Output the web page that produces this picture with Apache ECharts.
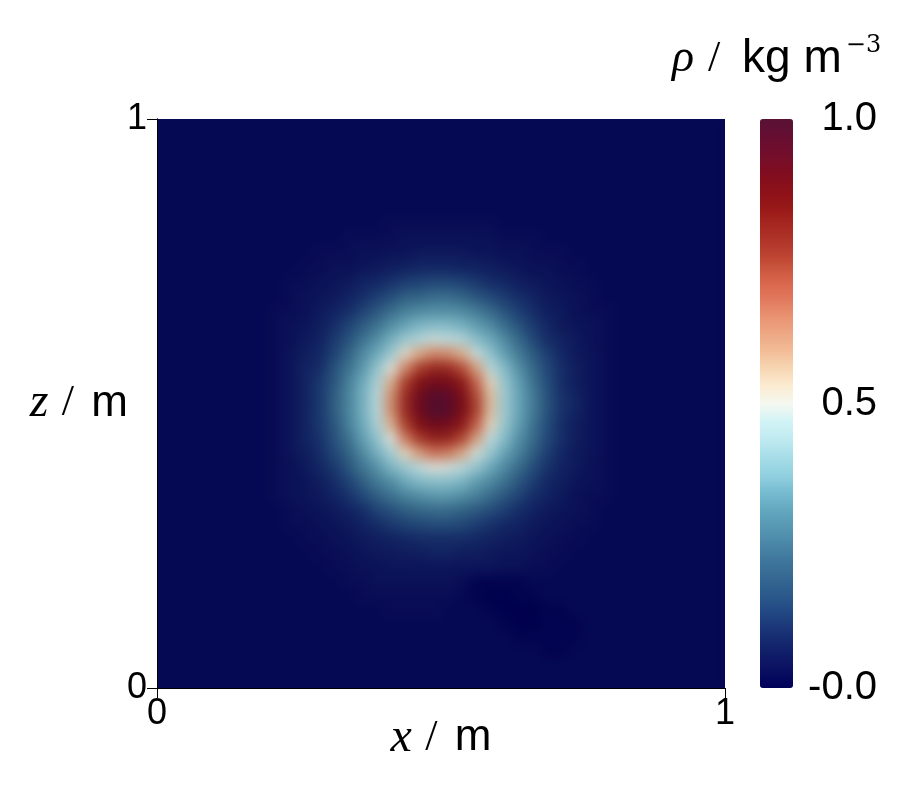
<!DOCTYPE html>
<html>
<head>
<meta charset="utf-8">
<title>rho</title>
<script src="https://cdn.jsdelivr.net/npm/echarts@6/dist/echarts.min.js"></script>
<style>
html, body { margin: 0; padding: 0; background: #fff; }
#main { width: 917px; height: 804px; }
/* the field sits on its own layer (zlevel 1): soften the cells, shade it a little
   like the lit surface in the original, keep it inside the plot box */
#main canvas[data-zr-dom-id="zr_1"] {
  filter: blur(6px) brightness(0.88);
  clip-path: inset(119px 192px 116px 157px);
}
</style>
</head>
<body>
<div id="main"></div>
<script>
// density, in hundredths of kg m^-3
// 40 x 40 cells over [0,1] x [0,1], first row is the top (z = 1)
var rhoRows = [
  [2,2,2,2,2,2,2,2,2,2,2,2,2,2,2,2,2,2,2,2,2,2,2,2,2,2,2,2,2,2,2,2,2,2,2,2,2,2,2,2],
  [2,2,2,2,2,2,2,2,2,2,2,2,2,2,2,2,2,2,2,2,2,2,2,2,2,2,2,2,2,2,2,2,2,2,2,2,2,2,2,2],
  [2,2,2,2,2,2,2,2,2,2,2,2,2,2,2,2,2,2,2,2,2,2,2,2,2,2,2,2,2,2,2,2,2,2,2,2,2,2,2,2],
  [2,2,2,2,2,2,2,2,2,2,2,2,2,2,2,2,2,2,2,2,2,2,2,2,2,2,2,2,2,2,2,2,2,2,2,2,2,2,2,2],
  [2,2,2,2,2,2,2,2,2,2,2,2,2,2,2,2,2,2,2,2,2,2,2,2,2,2,2,2,2,2,2,2,2,2,2,2,2,2,2,2],
  [2,2,2,2,2,2,2,2,2,2,2,2,2,2,2,2,2,2,2,2,2,2,2,2,2,2,2,2,2,2,2,2,2,2,2,2,2,2,2,2],
  [2,2,2,2,2,2,2,2,2,2,2,2,2,2,2,2,2,2,2,2,2,2,2,2,2,2,2,2,2,2,2,2,2,2,2,2,2,2,2,2],
  [2,2,2,2,2,2,2,2,2,2,2,2,2,2,2,2,3,3,3,3,3,3,3,3,2,2,2,2,2,2,2,2,2,2,2,2,2,2,2,2],
  [2,2,2,2,2,2,2,2,2,2,2,2,2,3,3,3,3,4,4,4,4,4,4,4,3,3,3,2,2,2,2,2,2,2,2,2,2,2,2,2],
  [2,2,2,2,2,2,2,2,2,2,2,3,3,3,4,4,5,5,6,6,6,6,5,5,4,4,3,3,3,2,2,2,2,2,2,2,2,2,2,2],
  [2,2,2,2,2,2,2,2,2,2,3,3,4,4,5,6,7,8,9,9,9,8,8,7,6,5,4,4,3,3,2,2,2,2,2,2,2,2,2,2],
  [2,2,2,2,2,2,2,2,2,3,3,4,5,6,8,9,11,13,14,15,15,14,12,10,9,7,6,5,4,3,3,2,2,2,2,2,2,2,2,2],
  [2,2,2,2,2,2,2,2,2,3,4,5,6,8,10,13,16,20,21,23,23,21,18,15,12,10,8,6,5,4,3,2,2,2,2,2,2,2,2,2],
  [2,2,2,2,2,2,2,2,3,3,4,6,8,10,14,18,23,27,29,30,30,29,26,22,17,13,10,7,6,4,3,3,2,2,2,2,2,2,2,2],
  [2,2,2,2,2,2,2,2,3,4,5,7,10,14,19,24,30,34,37,38,38,36,33,29,23,17,12,9,6,5,4,3,2,2,2,2,2,2,2,2],
  [2,2,2,2,2,2,2,2,3,4,6,8,12,17,24,30,36,42,45,48,47,45,39,35,29,22,15,10,8,6,4,3,2,2,2,2,2,2,2,2],
  [2,2,2,2,2,2,2,2,3,5,7,9,14,21,29,35,42,52,59,64,63,58,48,40,33,26,19,13,9,6,5,3,2,2,2,2,2,2,2,2],
  [2,2,2,2,2,2,2,2,3,5,8,10,17,24,32,40,50,64,75,80,79,73,60,46,38,30,22,15,10,7,5,3,2,2,2,2,2,2,2,2],
  [2,2,2,2,2,2,2,2,3,5,8,12,18,27,35,44,58,75,85,90,89,83,69,53,41,33,24,16,10,7,5,3,2,2,2,2,2,2,2,2],
  [2,2,2,2,2,2,2,2,3,5,8,12,20,28,36,46,63,79,91,98,96,88,74,56,42,34,26,17,11,8,5,3,2,2,2,2,2,2,2,2],
  [2,2,2,2,2,2,2,2,3,5,8,12,20,28,36,46,63,79,91,99,97,88,75,56,42,34,26,17,11,8,5,3,2,2,2,2,2,2,2,2],
  [2,2,2,2,2,2,2,2,3,5,8,12,18,27,35,44,58,75,86,91,90,83,70,53,41,33,24,16,10,7,5,3,2,2,2,2,2,2,2,2],
  [2,2,2,2,2,2,2,2,3,5,8,11,17,24,33,40,50,66,76,81,80,74,60,47,38,30,23,15,10,7,5,3,2,2,2,2,2,2,2,2],
  [2,2,2,2,2,2,2,2,3,5,7,10,15,21,29,36,43,53,61,67,66,59,49,41,34,27,20,13,9,6,5,3,2,2,2,2,2,2,2,2],
  [2,2,2,2,2,2,2,2,3,4,6,9,12,18,25,31,37,42,47,50,49,46,41,35,29,23,16,11,8,6,4,3,2,2,2,2,2,2,2,2],
  [2,2,2,2,2,2,2,2,3,4,5,7,10,14,20,26,30,35,38,39,39,37,33,29,24,18,13,9,7,5,4,3,2,2,2,2,2,2,2,2],
  [2,2,2,2,2,2,2,2,3,4,5,6,8,11,15,20,24,28,30,32,32,30,27,23,18,14,10,8,6,4,3,3,2,2,2,2,2,2,2,2],
  [2,2,2,2,2,2,2,2,2,3,4,5,6,8,10,14,17,20,22,23,23,21,19,16,13,10,8,6,5,4,3,2,2,2,2,2,2,2,2,2],
  [2,2,2,2,2,2,2,2,2,3,3,4,5,6,8,10,12,14,15,16,16,15,13,11,9,8,6,5,4,3,3,2,2,2,2,2,2,2,2,2],
  [2,2,2,2,2,2,2,2,2,2,3,3,4,5,6,7,8,9,10,10,10,10,9,8,7,6,5,4,3,3,2,2,2,2,2,2,2,2,2,2],
  [2,2,2,2,2,2,2,2,2,2,2,3,3,4,5,6,6,7,7,8,8,7,7,6,5,5,4,3,3,2,2,2,2,2,2,2,2,2,2,2],
  [2,2,2,2,2,2,2,2,2,2,2,2,3,3,4,4,5,5,5,5,5,5,5,5,4,4,3,3,2,2,2,2,2,2,2,2,2,2,2,2],
  [2,2,2,2,2,2,2,2,2,2,2,2,2,3,3,4,4,4,4,4,4,3,1,1,1,1,2,2,2,2,2,2,2,2,2,2,2,2,2,2],
  [2,2,2,2,2,2,2,2,2,2,2,2,2,2,3,3,3,3,3,3,3,2,1,0,0,1,1,2,2,2,2,2,2,2,2,2,2,2,2,2],
  [2,2,2,2,2,2,2,2,2,2,2,2,2,2,2,2,3,3,3,3,2,2,2,1,0,0,0,1,1,2,2,2,2,2,2,2,2,2,2,2],
  [2,2,2,2,2,2,2,2,2,2,2,2,2,2,2,2,2,2,2,2,2,2,2,2,1,0,0,1,1,1,2,2,2,2,2,2,2,2,2,2],
  [2,2,2,2,2,2,2,2,2,2,2,2,2,2,2,2,2,2,2,2,2,2,2,2,2,1,1,1,1,1,2,2,2,2,2,2,2,2,2,2],
  [2,2,2,2,2,2,2,2,2,2,2,2,2,2,2,2,2,2,2,2,2,2,2,2,2,2,2,1,1,2,2,2,2,2,2,2,2,2,2,2],
  [2,2,2,2,2,2,2,2,2,2,2,2,2,2,2,2,2,2,2,2,2,2,2,2,2,2,2,2,2,2,2,2,2,2,2,2,2,2,2,2],
  [2,2,2,2,2,2,2,2,2,2,2,2,2,2,2,2,2,2,2,2,2,2,2,2,2,2,2,2,2,2,2,2,2,2,2,2,2,2,2,2]
];

var axisTicks = [0, 1];
var axisTickLabels = ['0', '1'];
var barTicks = [0, 0.5, 1];
var barTickLabels = ['-0.0', '0.5', '1.0'];

// cool to warm (extended), low -> high
var coolWarm = [
  '#000059', '#0a1061', '#101e69', '#172f73', '#204380', '#29568a', '#336591',
  '#3d7499', '#4985a6', '#5697b3', '#63a7bf', '#77bcd1', '#92d1e0', '#a7dde8',
  '#c0eaf0', '#d2f4f7', '#f5f8f0', '#fbebd1', '#f7d5b2', '#f2bb96', '#eda682',
  '#e8906f', '#e0755a', '#d66349', '#c24b36', '#b3362b', '#a62821', '#991818',
  '#8c1119', '#800d20', '#730e2c', '#660e31', '#591236'
];

var nCells = rhoRows.length;
var cells = [];
for (var i = 0; i < nCells; i++) {
  cells.push(((i + 0.5) / nCells).toFixed(4));
}
var heat = [];
rhoRows.forEach(function (row, r) {
  row.forEach(function (v, c) {
    heat.push([c, nCells - 1 - r, v / 100]);
  });
});

var sans = 'Liberation Sans';
var serif = 'Liberation Serif';
var nameRich = {
  i: { fontFamily: serif, fontStyle: 'italic', fontSize: 48, color: '#000' },
  s: { fontFamily: serif, fontSize: 44, color: '#000', padding: [0, 4, 0, 0] },
  t: { fontFamily: sans, fontSize: 44, color: '#000' }
};
var tickFmt = function (v) { return axisTickLabels[axisTicks.indexOf(v)]; };

var myChart = echarts.init(document.getElementById('main'));
var option = {
  animation: false,
  backgroundColor: '#fff',
  textStyle: { fontFamily: sans, color: '#000' },
  title: {
    text: '{i|ρ} {s|/} {t|kg m}{p|−3}',
    left: 667,
    top: 29,
    textStyle: {
      fontSize: 50,
      fontWeight: 'normal',
      rich: {
        i: { fontFamily: serif, fontStyle: 'italic', fontSize: 46, color: '#000' },
        s: { fontFamily: serif, fontSize: 44, color: '#000', padding: [0, 8, 0, 0] },
        t: { fontFamily: sans, fontSize: 46, color: '#000' },
        p: { fontFamily: 'DejaVu Serif', fontSize: 24, color: '#000', verticalAlign: 'top', padding: [0, 0, 0, 4] }
      }
    }
  },
  grid: [
    { left: 157, top: 119, width: 568, height: 569, show: true, borderWidth: 0, backgroundColor: '#050953' },
    { left: 760, top: 119, width: 33, height: 569 }
  ],
  xAxis: [
    {
      type: 'category', gridIndex: 0, data: cells, position: 'top', zlevel: 2,
      axisLine: { show: true, lineStyle: { color: '#000', width: 1 } },
      axisTick: { show: false }, axisLabel: { show: false }, splitLine: { show: false }
    },
    {
      type: 'value', gridIndex: 0, position: 'bottom', min: 0, max: 1, interval: 1, zlevel: 2,
      axisLine: { show: true, lineStyle: { color: '#000', width: 1 } },
      axisTick: { show: true, length: 10, lineStyle: { color: '#000' } },
      splitLine: { show: false },
      axisLabel: { fontSize: 36, color: '#000', margin: 8, formatter: tickFmt },
      name: '{i|x} {s|/} {t|m}', nameLocation: 'middle', nameGap: 26, nameMoveOverlap: false,
      nameTextStyle: { fontSize: 48, rich: nameRich }
    },
    { type: 'value', gridIndex: 1, min: 0, max: 1, show: false }
  ],
  yAxis: [
    {
      type: 'category', gridIndex: 0, data: cells, position: 'right', zlevel: 2,
      axisLine: { show: true, lineStyle: { color: '#000', width: 1 } },
      axisTick: { show: false }, axisLabel: { show: false }, splitLine: { show: false }
    },
    {
      type: 'value', gridIndex: 0, position: 'left', min: 0, max: 1, interval: 1, zlevel: 2,
      axisLine: { show: true, lineStyle: { color: '#000', width: 1 } },
      axisTick: { show: true, length: 10, lineStyle: { color: '#000' } },
      splitLine: { show: false },
      axisLabel: { fontSize: 36, color: '#000', margin: 10, padding: [0, 0, 12, 0], formatter: tickFmt },
      name: '{i|z} {s|/} {t|m}', nameLocation: 'middle', nameRotate: 0, nameGap: 29, nameMoveOverlap: false,
      nameTextStyle: { fontSize: 48, rich: nameRich }
    },
    {
      type: 'value', gridIndex: 1, position: 'right', min: 0, max: 1, interval: 0.5,
      axisLine: { show: false }, axisTick: { show: false }, splitLine: { show: false },
      axisLabel: {
        fontSize: 40, color: '#000', margin: 84, align: 'right', padding: [0, 0, 10, 0],
        formatter: function (v) { return barTickLabels[barTicks.indexOf(v)]; }
      }
    }
  ],
  visualMap: {
    type: 'continuous',
    seriesIndex: 0,
    min: 0,
    max: 1,
    left: 760,
    top: 119,
    padding: 0,
    itemWidth: 33,
    itemHeight: 569,
    calculable: false,
    hoverLink: false,
    inRange: { color: coolWarm }
  },
  series: [{
    name: 'rho',
    type: 'heatmap',
    xAxisIndex: 0,
    yAxisIndex: 0,
    zlevel: 1,
    data: heat,
    emphasis: { disabled: true }
  }]
};
myChart.setOption(option);
</script>
</body>
</html>
